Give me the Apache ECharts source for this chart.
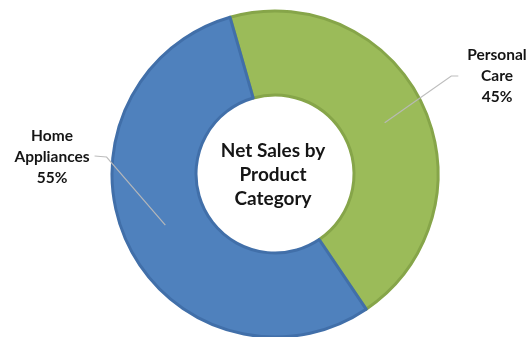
<!DOCTYPE html>
<html><head><meta charset="utf-8">
<script src="https://cdn.jsdelivr.net/npm/echarts@6/dist/echarts.min.js"></script>
<style>html,body{margin:0;padding:0;background:#fff}#c{width:529px;height:337px}</style>
</head><body><div id="c"></div>
<script>
// ---- data ----
const categories = ['Personal Care', 'Home Appliances'];
const labelNames = ['Personal\nCare', 'Home\nAppliances'];
const shares = [45, 55];
const titleText = 'Net Sales by\nProduct\nCategory';

// ---- styles ----
const colors = ['#9BBB59', '#4F81BD'];
const borderColors = ['#86A549', '#416FA9'];
const center = [275, 174];
const labelAnchors = [
  { x: 497, y: 76, side: 'right' },
  { x: 52, y: 157, side: 'left' }
];

const chart = echarts.init(document.getElementById('c'), null, { renderer: 'canvas' });

const ringData = categories.map((c, i) => ({
  name: c, value: shares[i],
  itemStyle: { color: colors[i], borderColor: borderColors[i], borderWidth: 3 }
}));
const labelData = categories.map((c, i) => ({ name: c, value: shares[i] }));

chart.setOption({
  animation: false,
  graphic: [{
    type: 'text', x: 273, y: 175, z: 100,
    style: {
      text: titleText, align: 'center', verticalAlign: 'middle',
      font: 'bold 19px Lato', lineHeight: 24, fill: '#151515'
    }
  }],
  series: [
    {
      type: 'pie', silent: true, z: 2,
      center: center, radius: [79, 163],
      startAngle: 106, clockwise: true,
      label: { show: false }, labelLine: { show: false },
      data: ringData
    },
    {
      type: 'pie', silent: true, z: 5,
      center: center, radius: [0, 121],
      startAngle: 106, clockwise: true,
      avoidLabelOverlap: false,
      itemStyle: { color: 'rgba(0,0,0,0)', borderWidth: 0 },
      label: {
        show: true, position: 'outside',
        formatter: p => labelNames[p.dataIndex] + '\n' + p.percent + '%',
        fontFamily: 'Lato', fontWeight: 'bold', fontSize: 15.5, lineHeight: 21,
        color: '#151515', align: 'center'
      },
      labelLine: { show: true, length: 10, length2: 10, lineStyle: { color: 'rgba(185,185,185,0.95)', width: 1.2 } },
      labelLayout: function (params) {
        const a = labelAnchors[params.dataIndex];
        const w = params.labelRect.width;
        const p0 = params.labelLinePoints[0];
        let pts;
        if (a.side === 'left') {
          const ex = a.x + w / 2 + 5;
          pts = [p0, [ex + 12, a.y], [ex, a.y - 1]];
        } else {
          const ex = a.x - w / 2 - 9;
          pts = [p0, [ex - 7, a.y], [ex, a.y]];
        }
        return { x: a.x, y: a.y, align: 'center', verticalAlign: 'middle', labelLinePoints: pts };
      },
      data: labelData
    }
  ]
});
</script></body></html>
